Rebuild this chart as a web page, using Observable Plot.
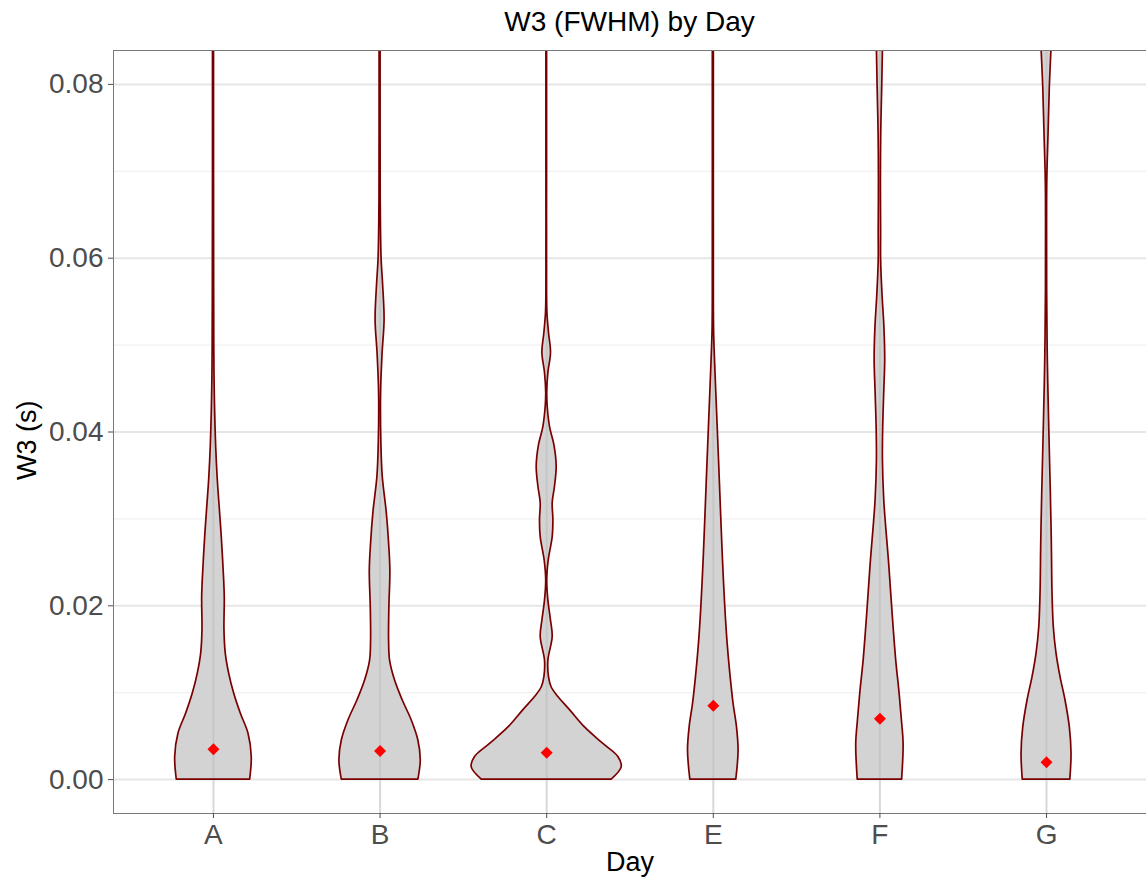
<!DOCTYPE html>
<html><head><meta charset="utf-8">
<script src="https://cdn.jsdelivr.net/npm/d3@7"></script>
<script src="https://cdn.jsdelivr.net/npm/@observablehq/plot@0.6"></script>
<style>
body{margin:0;background:#fff;font-family:"Liberation Sans",Arial,sans-serif;}
#title{height:44px;line-height:44px;margin-left:113px;width:1033px;text-align:center;font-size:28px;color:#000;}
</style></head><body>
<div id="title">W3 (FWHM) by Day</div>
<div id="chart"></div>
<script>
// Categories
const days = ["A", "B", "C", "E", "F", "G"];

// Violin outlines: W3 value (s) and relative violin half-width (largest = 75)
const yA = [0, 0.0026, 0.0053, 0.0076, 0.0099, 0.0122, 0.0145, 0.0172, 0.021, 0.0245, 0.0279, 0.0306, 0.0345, 0.0383, 0.0422, 0.046, 0.050, 0.060, 0.070, 0.0839];
const wA = [36.7, 38.3, 35, 27.3, 20.7, 15.7, 12.3, 11, 11.3, 10, 8.3, 6.7, 4.3, 2.7, 1.7, 1.1, 0.8, 0.6, 0.5, 0.5];

const yB = [0, 0.0022, 0.0045, 0.0068, 0.0091, 0.0114, 0.0137, 0.016, 0.0198, 0.024, 0.0272, 0.0307, 0.0348, 0.0387, 0.0445, 0.049, 0.0529, 0.057, 0.060, 0.067, 0.075, 0.0839];
const wB = [38.3, 40.7, 38.3, 31.7, 22.7, 15, 10, 9, 9.3, 10.3, 9, 6.7, 2.7, 1.3, 1.0, 2.5, 4.5, 3, 1.5, 0.6, 0.5, 0.5];

const yC = [0, 0.0014, 0.0026, 0.0041, 0.006, 0.008, 0.0095, 0.0106, 0.0118, 0.0137, 0.0164, 0.0183, 0.0206, 0.0229, 0.0252, 0.0279, 0.0299, 0.0318, 0.0337, 0.036, 0.0383, 0.0406, 0.0429, 0.0445, 0.0468, 0.0491, 0.0514, 0.0537, 0.056, 0.07, 0.0839];
const wC = [65, 75, 71.7, 56.7, 38.3, 23.3, 11.7, 5, 2.3, 1.7, 6, 4.3, 1.7, 0.5, 2, 6, 6.7, 6, 8.3, 10, 8, 3.3, 1, 0.5, 1.7, 4.3, 2.3, 0.7, 0.3, 0.3, 0.3];

const yE = [0, 0.0033, 0.006, 0.0087, 0.0122, 0.0157, 0.0198, 0.0252, 0.030, 0.0368, 0.0425, 0.0483, 0.052, 0.06, 0.0839];
const wE = [23, 25.3, 23.7, 20.3, 17, 14.3, 12, 9.7, 8, 5.7, 3.7, 1.7, 0.7, 0.5, 0.5];

const yF = [0, 0.0041, 0.0068, 0.0099, 0.0137, 0.0175, 0.0214, 0.0252, 0.029, 0.0322, 0.0368, 0.0406, 0.0445, 0.0483, 0.052, 0.056, 0.0598, 0.0632, 0.0687, 0.0742, 0.0797, 0.0839];
const wF = [22.2, 23.7, 22, 19.7, 16.3, 13.7, 11.3, 9, 6.3, 4.3, 3, 3.3, 4.3, 5.3, 4.5, 2.5, 1.2, 1.2, 1, 1.3, 2.3, 3];

const yG = [0, 0.003, 0.006, 0.0091, 0.0118, 0.0145, 0.0175, 0.0214, 0.0272, 0.033, 0.0406, 0.0483, 0.056, 0.063, 0.0687, 0.0742, 0.0797, 0.0839];
const wG = [23.8, 25, 23.3, 19, 14, 10, 7.3, 6, 5.3, 4.3, 2.7, 1.3, 0.6, 0.5, 0.7, 2, 3.3, 4.9];

// Summary points (red diamonds)
const means = [0.0035, 0.0033, 0.0031, 0.0085, 0.0070, 0.0020];

// Axis ticks
const yTicks = [0, 0.02, 0.04, 0.06, 0.08];
const yMinor = [0.01, 0.03, 0.05, 0.07];

const series = [[yA, wA], [yB, wB], [yC, wC], [yE, wE], [yF, wF], [yG, wG]];
const rows = [];
series.forEach(([ys, ws], i) => ys.forEach((y, j) => rows.push({day: days[i], pos: i + 1, y, w: ws[j]})));
const K = 0.45 / 75;
const pts = means.map((m, i) => ({pos: i + 1, y: m}));
const positions = days.map((d, i) => i + 1);

const diamond = {draw(ctx, size) {
  const r = Math.sqrt(size) * 0.62625;
  ctx.moveTo(0, -r); ctx.lineTo(r, 0); ctx.lineTo(0, r); ctx.lineTo(-r, 0); ctx.closePath();
}};

const chart = Plot.plot({
  width: 1146, height: 836,
  marginLeft: 113, marginRight: 0, marginTop: 6, marginBottom: 67,
  style: {fontFamily: "Liberation Sans, Arial, sans-serif", background: "#fff", overflow: "visible"},
  x: {type: "linear", domain: [0.4, 6.6]},
  y: {domain: [-0.0039, 0.0839]},
  marks: [
    Plot.ruleY(yMinor, {stroke: "#ededed", strokeWidth: 1}),
    Plot.ruleY(yTicks, {stroke: "#e6e6e6", strokeWidth: 2}),
    Plot.ruleX(positions, {stroke: "#e6e6e6", strokeWidth: 2}),
    Plot.areaX(rows, {y: "y", x1: d => d.pos - d.w * K, x2: d => d.pos + d.w * K, z: "day",
      fill: "#d3d3d3", stroke: "#7a0000", strokeWidth: 1.7, curve: "catmull-rom", clip: true}),
    Plot.ruleX(positions, {stroke: "#000", strokeOpacity: 0.06, strokeWidth: 2}),
    Plot.dot(pts, {x: "pos", y: "y", r: 5.4, symbol: diamond, fill: "red", stroke: null}),
    Plot.frame({stroke: "#777", strokeWidth: 1}),
    Plot.axisY(yTicks, {anchor: "left", tickFormat: d => d.toFixed(2), tickSize: 5, tickPadding: 5,
      fontSize: 28, color: "#4d4d4d", label: null}),
    Plot.axisX(positions, {anchor: "bottom", tickFormat: i => days[i - 1], tickSize: 5, tickPadding: 6,
      fontSize: 28, color: "#4d4d4d", label: null}),
    Plot.text(["Day"], {frameAnchor: "bottom", dy: 49, fontSize: 27, fill: "#000", lineAnchor: "middle"}),
    Plot.text(["W3 (s)"], {frameAnchor: "left", dx: -86, dy: 48, rotate: -90, fontSize: 27, fill: "#000", lineAnchor: "middle"})
  ]
});
document.getElementById("chart").appendChild(chart);
</script>
</body></html>
